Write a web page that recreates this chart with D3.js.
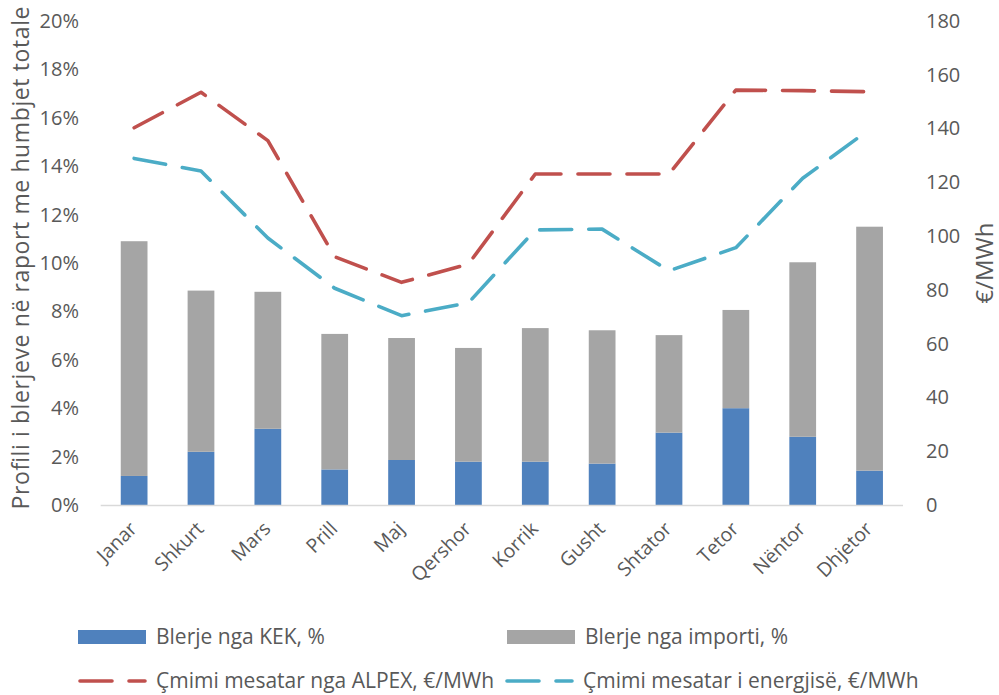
<!DOCTYPE html>
<html>
<head>
<meta charset="utf-8">
<script src="https://cdn.jsdelivr.net/npm/d3@7"></script>
<style>
  body { margin: 0; background: #fff; }
  svg text { font-family: "Open Sans", sans-serif; fill: #595959; }
</style>
</head>
<body>
<svg id="chart" width="999" height="695"></svg>
<script>
const months = ['Janar', 'Shkurt', 'Mars', 'Prill', 'Maj', 'Qershor', 'Korrik', 'Gusht', 'Shtator', 'Tetor', 'Nëntor', 'Dhjetor'];
// shares in % of total losses
const kek = [1.2, 2.2, 3.15, 1.47, 1.86, 1.79, 1.79, 1.71, 2.99, 4.0, 2.82, 1.42];
const importi = [9.7, 6.66, 5.66, 5.6, 5.04, 4.7, 5.52, 5.51, 4.03, 4.06, 7.21, 10.08];
// prices €/MWh
const alpex = [140.3, 153.5, 135.5, 92.3, 82.8, 89.6, 123.1, 123.1, 123.1, 154.3, 154.1, 153.7];
const energy = [128.9, 124.2, 99.3, 80.6, 70.4, 75.2, 102.3, 102.6, 87.1, 95.7, 121.5, 139.7];

const leftTicks = [0, 2, 4, 6, 8, 10, 12, 14, 16, 18, 20];
const rightTicks = [0, 20, 40, 60, 80, 100, 120, 140, 160, 180];

const blue = '#4f81bd', grey = '#a5a5a5', red = '#c0504d', teal = '#4bacc6';

const svg = d3.select('#chart');

const x = d3.scaleBand().domain(months).range([100.7, 903]).paddingInner(0.6).paddingOuter(0.3);
const y = d3.scaleLinear().domain([0, 20]).range([505, 21]);
const y2 = d3.scaleLinear().domain([0, 180]).range([505, 21]);
const cx = d => x(d) + x.bandwidth() / 2;

// bars
const stackData = months.map((m, i) => ({ month: m, kek: kek[i], importi: importi[i] }));
const series = d3.stack().keys(['kek', 'importi'])(stackData);
const colors = { kek: blue, importi: grey };

svg.append('g').selectAll('g')
  .data(series)
  .join('g')
  .attr('fill', s => colors[s.key])
  .selectAll('rect')
  .data(s => s)
  .join('rect')
  .attr('x', d => x(d.data.month))
  .attr('width', x.bandwidth())
  .attr('y', d => y(d[1]))
  .attr('height', d => y(d[0]) - y(d[1]));

// x axis line + labels
svg.append('line')
  .attr('x1', 100.7).attr('x2', 903)
  .attr('y1', y(0) + 0.5).attr('y2', y(0) + 0.5)
  .attr('stroke', '#d9d9d9').attr('stroke-width', 1.3);

svg.append('g').selectAll('text')
  .data(months)
  .join('text')
  .attr('transform', d => `translate(${cx(d) + 4},${530}) rotate(-45)`)
  .attr('text-anchor', 'end')
  .attr('font-size', 19.5)
  .text(d => d);

// left axis
const yAxis = g => g
  .attr('transform', 'translate(88,0)')
  .call(d3.axisLeft(y).tickValues(leftTicks).tickSize(0).tickPadding(0).tickFormat(d => d + '%'))
  .call(g => g.select('.domain').remove())
  .call(g => g.selectAll('.tick text').attr('font-size', 20).attr('x', -9).attr('fill', '#595959'));
svg.append('g').call(yAxis);

// right axis
const y2Axis = g => g
  .attr('transform', 'translate(918,0)')
  .call(d3.axisRight(y2).tickValues(rightTicks).tickSize(0).tickPadding(0))
  .call(g => g.select('.domain').remove())
  .call(g => g.selectAll('.tick text').attr('font-size', 20).attr('x', 8).attr('fill', '#595959'));
svg.append('g').call(y2Axis);

svg.selectAll('.tick text').style('font-family', '"Open Sans", sans-serif');

// axis titles
svg.append('text')
  .attr('transform', 'translate(29,258) rotate(-90)')
  .attr('text-anchor', 'middle')
  .attr('font-size', 23)
  .attr('textLength', 503)
  .attr('lengthAdjust', 'spacing')
  .text('Profili i blerjeve në raport me humbjet totale');

svg.append('text')
  .attr('transform', 'translate(993,263) rotate(-90)')
  .attr('text-anchor', 'middle')
  .attr('font-size', 24)
  .text('€/MWh');

// price lines
const dash = '32,17';
function drawLine(values, color) {
  const line = d3.line()
    .x((d, i) => cx(months[i]))
    .y(d => y2(d));
  svg.append('path')
    .datum(values)
    .attr('fill', 'none')
    .attr('stroke', color)
    .attr('stroke-width', 3.6)
    .attr('stroke-dasharray', dash)
    .attr('stroke-linecap', 'round')
    .attr('stroke-linejoin', 'round')
    .attr('d', line);
}
drawLine(alpex, red);
drawLine(energy, teal);

// legend
const legend = svg.append('g');
const legendItems = [
  { label: 'Blerje nga KEK, %', color: blue, type: 'rect', x: 78, y: 637 },
  { label: 'Blerje nga importi, %', color: grey, type: 'rect', x: 507, y: 637 },
  { label: 'Çmimi mesatar nga ALPEX, €/MWh', color: red, type: 'line', x: 78, y: 681 },
  { label: 'Çmimi mesatar i energjisë, €/MWh', color: teal, type: 'line', x: 505, y: 681 }
];
legendItems.forEach(it => {
  if (it.type === 'rect') {
    legend.append('rect')
      .attr('x', it.x).attr('y', it.y - 7)
      .attr('width', 68).attr('height', 14)
      .attr('fill', it.color);
  } else {
    legend.append('line')
      .attr('x1', it.x + 2).attr('x2', it.x + 67)
      .attr('y1', it.y).attr('y2', it.y)
      .attr('stroke', it.color).attr('stroke-width', 3.6)
      .attr('stroke-linecap', 'round')
      .attr('stroke-dasharray', dash);
  }
  legend.append('text')
    .attr('x', it.x + 78).attr('y', it.y)
    .attr('dy', '0.35em')
    .attr('font-size', 21)
    .text(it.label);
});
</script>
</body>
</html>
